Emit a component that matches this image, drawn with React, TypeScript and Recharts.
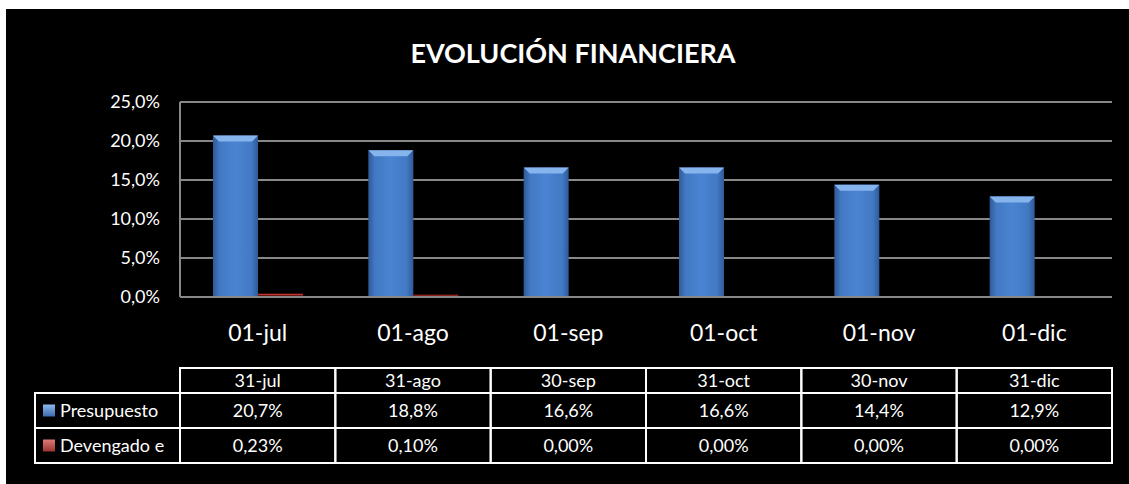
import React from 'react';
import { BarChart, Bar, XAxis, YAxis, CartesianGrid } from 'recharts';

const categories = ['01-jul', '01-ago', '01-sep', '01-oct', '01-nov', '01-dic'];
const periodEnds = ['31-jul', '31-ago', '30-sep', '31-oct', '30-nov', '31-dic'];
const presupuesto = [20.7, 18.8, 16.6, 16.6, 14.4, 12.9];
const devengado = [0.23, 0.1, 0, 0, 0, 0];
const yTicks = [0, 5, 10, 15, 20, 25];

const data = categories.map((c, i) => ({
  cat: c,
  end: periodEnds[i],
  presupuesto: presupuesto[i],
  devengado: devengado[i],
}));

const W = 1123;
const H = 475;
const M = { top: 93, right: 17, left: 114, bottom: 0 };
const YW = 60;
const COL = (W - M.left - YW - M.right) / categories.length;
const FONT = 'Lato, "Open Sans", sans-serif';

const fmt1 = (v: number) => v.toFixed(1).replace('.', ',') + '%';
const fmt2 = (v: number) => v.toFixed(2).replace('.', ',') + '%';

const BevelBar = (props: any) => {
  const { x, y, width, height, grad, top, flat } = props;
  if (!height || height <= 0) return null;
  // very short bars sit under the axis line, lift them a little so they show
  if (height < 8) return <rect x={x} y={y - 1.5} width={width} height={Math.max(height, 1)} fill={flat} />;
  const b = 6;
  return (
    <g>
      <rect x={x} y={y} width={width} height={height} fill={`url(#${grad})`} />
      <polygon points={`${x},${y} ${x + width},${y} ${x + width - b},${y + b} ${x + b},${y + b}`} fill={top} />
    </g>
  );
};

const TableTick = (props: any) => {
  const { x, y, payload, index } = props;
  const row = data[index];
  const l = x - COL / 2;
  const hTop = y + 71;
  const r1 = y + 96;
  const r2 = y + 131;
  const r3 = y + 166;
  const cell = { fill: '#fff', fontSize: 18, fontFamily: FONT, textAnchor: 'middle' as const };
  return (
    <g>
      <text x={x} y={y + 36} dy="0.35em" fill="#fff" fontSize={23} fontFamily={FONT} textAnchor="middle">
        {payload.value}
      </text>
      <rect x={l} y={hTop} width={COL} height={r3 - hTop} fill="none" stroke="#fff" strokeWidth={2} />
      <line x1={l} x2={l + COL} y1={r1} y2={r1} stroke="#fff" strokeWidth={2} />
      <line x1={l} x2={l + COL} y1={r2} y2={r2} stroke="#fff" strokeWidth={2} />
      <text {...cell} x={x} y={(hTop + r1) / 2} dy="0.35em">{row.end}</text>
      <text {...cell} x={x} y={(r1 + r2) / 2} dy="0.35em">{fmt1(row.presupuesto)}</text>
      <text {...cell} x={x} y={(r2 + r3) / 2} dy="0.35em">{fmt2(row.devengado)}</text>
      {index === 0 && (
        <g>
          <rect x={29} y={r1} width={l - 29} height={r3 - r1} fill="none" stroke="#fff" strokeWidth={2} />
          <line x1={29} x2={l} y1={r2} y2={r2} stroke="#fff" strokeWidth={2} />
          <rect x={37} y={(r1 + r2) / 2 - 6} width={12} height={12} fill="url(#gBlueV)" />
          <rect x={37} y={(r2 + r3) / 2 - 6} width={12} height={12} fill="url(#gRedV)" />
          <text x={54} y={(r1 + r2) / 2} dy="0.35em" fill="#fff" fontSize={18} fontFamily={FONT}>Presupuesto</text>
          <text x={54} y={(r2 + r3) / 2} dy="0.35em" fill="#fff" fontSize={18} fontFamily={FONT}>Devengado e</text>
        </g>
      )}
    </g>
  );
};

export default function App() {
  return (
    <div style={{ position: 'absolute', left: 0, top: 0, width: 1129, height: 484, background: '#fff' }}>
      <div style={{ position: 'absolute', left: 6, top: 9, width: W, height: H, background: '#000' }}>
        <div
          style={{
            position: 'absolute', left: 0, width: 1134, top: 27, textAlign: 'center',
            color: '#fff', fontFamily: FONT, fontWeight: 700, fontSize: 27,
          }}
        >
          EVOLUCIÓN FINANCIERA
        </div>
        <BarChart width={W} height={H} data={data} margin={M} barSize={45} barGap={0}>
          <defs>
            <linearGradient id="gBlue" x1="0" y1="0" x2="1" y2="0">
              <stop offset="0%" stopColor="#2f5a98" />
              <stop offset="15%" stopColor="#4379c4" />
              <stop offset="50%" stopColor="#4a84d2" />
              <stop offset="85%" stopColor="#4379c4" />
              <stop offset="100%" stopColor="#2f5a98" />
            </linearGradient>
            <linearGradient id="gBlueV" x1="0" y1="0" x2="0" y2="1">
              <stop offset="0%" stopColor="#8bb8ef" />
              <stop offset="100%" stopColor="#3a6bb0" />
            </linearGradient>
            <linearGradient id="gRedV" x1="0" y1="0" x2="0" y2="1">
              <stop offset="0%" stopColor="#e07a77" />
              <stop offset="100%" stopColor="#9a3532" />
            </linearGradient>
          </defs>
          <CartesianGrid vertical={false} stroke="#888" strokeWidth={2} />
          <XAxis
            dataKey="cat"
            height={187}
            axisLine={{ stroke: '#888', strokeWidth: 2 }}
            tickLine={false}
            tickSize={0}
            tickMargin={0}
            interval={0}
            tick={<TableTick />}
          />
          <YAxis
            width={YW}
            domain={[0, 25]}
            ticks={yTicks}
            tickFormatter={fmt1}
            axisLine={{ stroke: '#888', strokeWidth: 2 }}
            tickLine={false}
            tickMargin={14}
            tick={{ fill: '#fff', fontSize: 18, fontFamily: FONT }}
          />
          <Bar dataKey="presupuesto" isAnimationActive={false} shape={<BevelBar grad="gBlue" top="#86b4ec" flat="#4a84d2" />} />
          <Bar dataKey="devengado" isAnimationActive={false} shape={<BevelBar grad="gBlue" top="#e07a77" flat="#c8302a" />} />
        </BarChart>
      </div>
    </div>
  );
}
